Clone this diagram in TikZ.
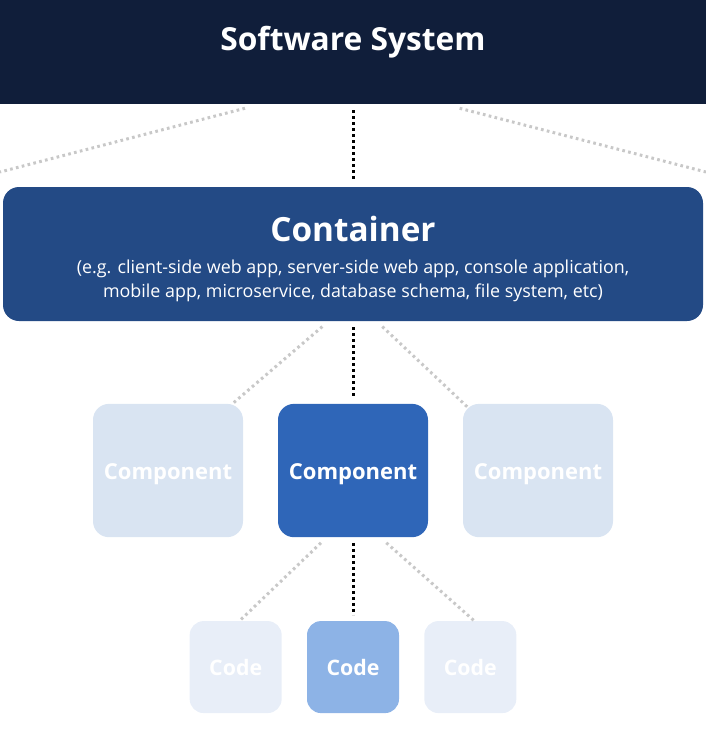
\documentclass[tikz,border=0pt]{standalone}
\usepackage{fontspec}
\setmainfont{Open Sans}
\usetikzlibrary{positioning}

\definecolor{sysnavy}{HTML}{101E3A}
\definecolor{contblue}{HTML}{234A85}
\definecolor{compblue}{HTML}{2F66B8}
\definecolor{compfade}{HTML}{D9E4F2}
\definecolor{codeblue}{HTML}{8DB3E6}
\definecolor{codefade}{HTML}{E8EEF8}
\definecolor{dotgray}{HTML}{C8C8C8}

\tikzset{
  comp/.style={rounded corners=12pt, text=white, font=\fontsize{16.5}{20}\selectfont\bfseries,
               minimum width=112.5pt, minimum height=100pt, inner sep=0pt,
               text height=13pt, text depth=0pt},
  codebox/.style={rounded corners=10.5pt, text=white, font=\fontsize{16}{20}\selectfont\bfseries,
               minimum width=69pt, minimum height=69pt, inner sep=0pt},
  zoomline/.style={line width=2.25pt, dash pattern=on 2.25pt off 2.25pt},
  sideline/.style={line width=2.25pt, dotgray, dash pattern=on 2pt off 2.5pt}
}

\begin{document}
\begin{tikzpicture}[x=0.75pt, y=-0.75pt, node distance=2cm, on grid]
  \useasboundingbox (0,0) rectangle (706,747);

  % levels
  \node[fill=sysnavy, text=white, minimum width=529.5pt, inner xsep=0pt, inner ysep=0pt,
        text height=37.5pt, text depth=40.5pt, font=\fontsize{23.8}{28}\selectfont\bfseries]
        (sys) at (353,52) {Software System};
  \node[fill=contblue, text=white, rounded corners=12pt, minimum width=525pt,
        minimum height=100.5pt, inner sep=0pt, align=center,
        font=\fontsize{13.4}{18}\selectfont]
        (cont) at (353,254)
        {\rule{0pt}{27pt}{\fontsize{25}{30}\selectfont\bfseries Container}\\[6pt]
         (e.g. client-side web app, server-side web app, console application,\\
         mobile app, microservice, database schema, file system, etc)};

  \node[comp, fill=compblue] (compM) [below=162.4pt of cont] {Component};
  \node[comp, fill=compfade] (compL) [left=138.75pt of compM] {Component};
  \node[comp, fill=compfade] (compR) [right=138.75pt of compM] {Component};

  \node[codebox, fill=codeblue] (codeM) [below=147.4pt of compM] {Code};
  \node[codebox, fill=codefade] (codeL) [left=88pt of codeM] {Code};
  \node[codebox, fill=codefade] (codeR) [right=88pt of codeM] {Code};

  \coordinate (edgeL) at (0,172);
  \coordinate (edgeR) at (706,172);

  % zoom lines
  \draw[zoomline, shorten <=4.5pt, shorten >=4pt] (sys.south) -- (cont.north);
  \draw[zoomline, shorten <=4.5pt, shorten >=5pt] (cont.south) -- (compM.north);
  \draw[zoomline, shorten <=4pt, shorten >=4.5pt] (compM.south) -- (codeM.north);

  \draw[sideline] ([xshift=-81pt, yshift=-3pt]sys.south) -- (edgeL);
  \draw[sideline] ([xshift=80pt, yshift=-3pt]sys.south) -- (edgeR);
  \draw[sideline] ([xshift=-23pt, yshift=-4pt]cont.south) -- ([xshift=-8pt]compL.north east);
  \draw[sideline] ([xshift=22pt, yshift=-4pt]cont.south) -- ([xshift=4pt, yshift=-3pt]compR.north west);
  \draw[sideline] ([xshift=-24pt, yshift=-4pt]compM.south) -- ([xshift=3pt]codeL.north);
  \draw[sideline] ([xshift=25pt, yshift=-4pt]compM.south) -- ([xshift=4pt, yshift=-1pt]codeR.north);
\end{tikzpicture}
\end{document}
